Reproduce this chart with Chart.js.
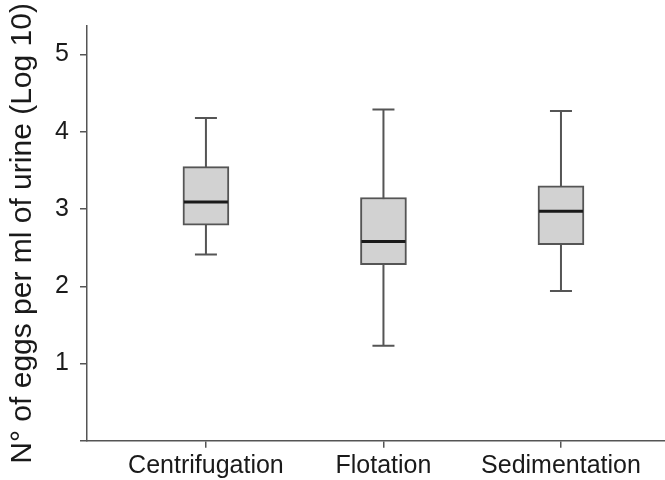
<!DOCTYPE html>
<html>
<head>
<meta charset="utf-8">
<script src="https://cdn.jsdelivr.net/npm/chart.js@4/dist/chart.umd.min.js"></script>
<style>
    body { margin: 0; background: #fff; }
    #chart { display: block; }
</style>
</head>
<body>
<canvas id="chart" width="665" height="480"></canvas>
<script>
// --- Data (log10 eggs per ml of urine) ---
const categories = ['Centrifugation', 'Flotation', 'Sedimentation'];
const whiskerLow = [2.41, 1.23, 1.94];
const q1Values = [2.79, 2.28, 2.54];
const medians = [3.09, 2.58, 2.97];
const q3Values = [3.55, 3.15, 3.30];
const whiskerHigh = [4.18, 4.29, 4.27];
const yTicks = [0, 1, 2, 3, 4, 5];

const lineColor = '#555555';
const boxFill = '#d2d2d2';
const fontFamily = "'Liberation Sans', Arial, sans-serif";

// whiskers go behind the boxes, medians on top
const boxPlotLines = {
    id: 'boxPlotLines',
    beforeDatasetsDraw(chart) {
        const {ctx, scales: {x, y}} = chart;
        const capHalf = 11;
        ctx.save();
        ctx.strokeStyle = lineColor;
        ctx.lineWidth = 2;
        categories.forEach((c, i) => {
            const px = x.getPixelForValue(i + 1);
            const yLow = y.getPixelForValue(whiskerLow[i]);
            const yHigh = y.getPixelForValue(whiskerHigh[i]);
            ctx.beginPath();
            ctx.moveTo(px, yLow);
            ctx.lineTo(px, yHigh);
            ctx.moveTo(px - capHalf, yLow);
            ctx.lineTo(px + capHalf, yLow);
            ctx.moveTo(px - capHalf, yHigh);
            ctx.lineTo(px + capHalf, yHigh);
            ctx.stroke();
        });
        ctx.restore();
    },
    afterDatasetsDraw(chart) {
        const {ctx, scales: {x, y}} = chart;
        const half = 22;
        ctx.save();
        ctx.strokeStyle = '#1a1a1a';
        ctx.lineWidth = 3;
        categories.forEach((c, i) => {
            const px = x.getPixelForValue(i + 1);
            const py = y.getPixelForValue(medians[i]);
            ctx.beginPath();
            ctx.moveTo(px - half, py);
            ctx.lineTo(px + half, py);
            ctx.stroke();
        });
        ctx.restore();
    }
};

new Chart(document.getElementById('chart'), {
    type: 'bar',
    data: {
        datasets: [{
            data: categories.map((c, i) => ({ x: i + 1, y: [q1Values[i], q3Values[i]] })),
            backgroundColor: boxFill,
            borderColor: lineColor,
            borderWidth: 2,
            borderSkipped: false,
            barThickness: 46
        }]
    },
    options: {
        responsive: false,
        animation: false,
        layout: { padding: { left: 0, top: 23, right: 0, bottom: 0 } },
        plugins: {
            legend: { display: false },
            tooltip: { enabled: false }
        },
        scales: {
            x: {
                type: 'linear',
                offset: false,
                min: 0.33,
                max: 3.586,
                afterBuildTicks: scale => {
                    scale.ticks = categories.map((c, i) => ({ value: i + 1 }));
                },
                afterFit: scale => { scale.height = 39.25; },
                ticks: {
                    callback: v => categories[v - 1],
                    color: '#1a1a1a',
                    font: { family: fontFamily, size: 25 },
                    padding: 3,
                    maxRotation: 0,
                    autoSkip: false
                },
                grid: { offset: false, drawOnChartArea: false, drawTicks: true, tickLength: 7, color: lineColor, lineWidth: 1.5 },
                border: { display: true, color: lineColor, width: 1.5 }
            },
            y: {
                min: 0,
                max: 5.37,
                afterBuildTicks: scale => {
                    scale.ticks = yTicks.map(v => ({ value: v }));
                },
                afterFit: scale => { scale.width = 87; },
                ticks: {
                    callback: v => (v === 0 ? '' : v),
                    color: '#1a1a1a',
                    font: { family: fontFamily, size: 25 },
                    padding: 11
                },
                grid: { drawOnChartArea: false, drawTicks: true, tickLength: 7, color: lineColor, lineWidth: 1.5 },
                border: { display: true, color: lineColor, width: 1.5 },
                title: {
                    display: true,
                    text: 'N° of eggs per ml of urine (Log 10)',
                    color: '#1a1a1a',
                    font: { family: fontFamily, size: 30 },
                    padding: { top: 5, bottom: 0 }
                }
            }
        }
    },
    plugins: [boxPlotLines]
});
</script>
</body>
</html>
